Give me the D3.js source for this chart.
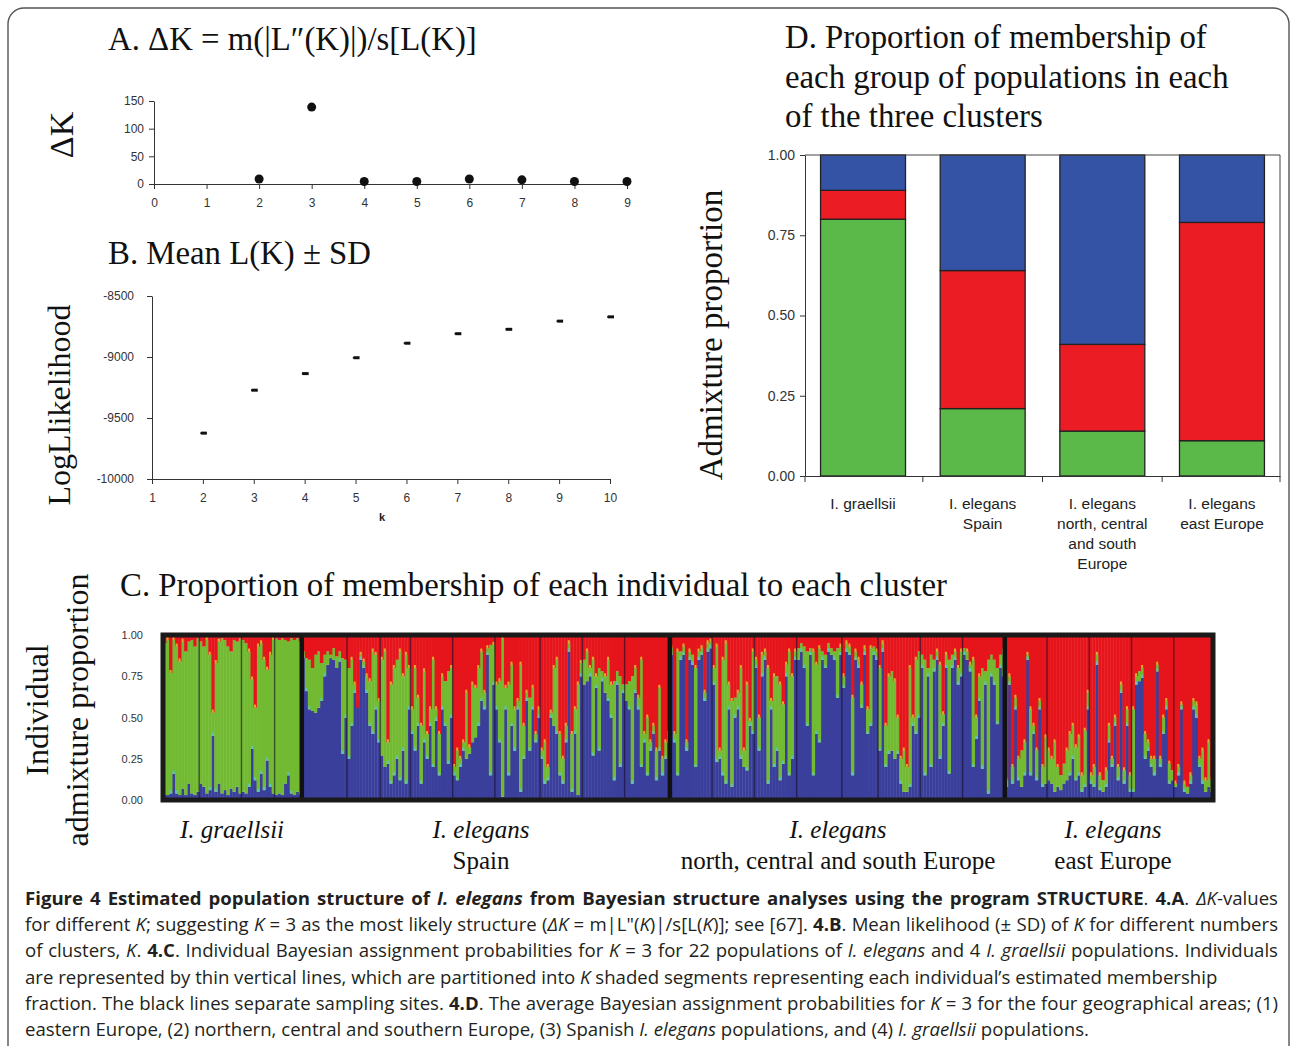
<!DOCTYPE html>
<html><head><meta charset="utf-8">
<script src="https://cdn.jsdelivr.net/npm/d3@7"></script>
<style>body{margin:0;background:#fff}svg{display:block}</style>
</head><body><svg id="fig" width="1290" height="1046"></svg>
<script>
// ---------- Panel A data ----------
const deltaKk = [2, 3, 4, 5, 6, 7, 8, 9];
const deltaK = [9, 139, 4.5, 4.5, 9, 7.5, 4.5, 4.5];
const deltaKTicksX = [0,1,2,3,4,5,6,7,8,9];
const deltaKTicksY = [0, 50, 100, 150];

// ---------- Panel B data ----------
const lnLk = [2, 3, 4, 5, 6, 7, 8, 9, 10];
const lnLMean = [-9624, -9272, -9136, -9006, -8887, -8809, -8773, -8706, -8671];
const lnLSd = [6, 8, 10, 6, 6, 8, 10, 6, 10];
const lnLTicksX = [1,2,3,4,5,6,7,8,9,10];
const lnLTicksY = [-10000, -9500, -9000, -8500];

// ---------- Panel D data ----------
const areaNames = ["I. graellsii", "I. elegans Spain", "I. elegans NCS Europe", "I. elegans east Europe"];
const areaLabels = [["I. graellsii"], ["I. elegans", "Spain"], ["I. elegans", "north,  central", "and south", "Europe"], ["I. elegans", "east Europe"]];
const areaGreen = [0.80, 0.21, 0.14, 0.11];
const areaRed = [0.09, 0.43, 0.27, 0.68];
const areaBlue = [0.11, 0.36, 0.59, 0.21];
const areaTicks = [0, 0.25, 0.5, 0.75, 1];

// ---------- Panel C data (per population, per individual) ----------
// blue share and cumulative blue+green share (red = rest)
const graellsiiBlue = [
 [.03,.03,.04,.16,.04,.03,.07,.03,.10,.04,.03,.05],
 [.10,.08,.04,.06,.39,.05,.10,.04,.06,.03,.07,.05,.08,.04],
 [.05,.04,.08,.31,.12,.05,.16,.06,.24,.08,.04],
 [.03,.04,.03,.10,.15,.04,.03,.05,.03]];
const graellsiiBlueGreen = [
 [.95,.97,.77,.97,.93,.84,.96,.90,.96,.97,.93,.98],
 [.96,.93,.97,.88,.53,.83,.96,.98,.97,.93,.90,.97,.96,.98],
 [.97,.95,.90,.73,.56,.93,.95,.85,.79,.88,.97],
 [.98,.97,.98,.97,.96,.98,.97,.98,.96]];
const spainBlue = [
 [.86,.66,.55,.54,.53,.56,.60,.75,.82,.86,.85,.80,.84,.28,.50],
 [.25,.45,.65,.60,.85,.80,.65,.45,.40,.55,.35],
 [.27,.20,.22,.10,.15,.25,.12,.30,.10,.55],
 [.40,.30,.45,.10,.35,.25,.45,.20,.48,.15,.55,.45,.22,.50],
 [.15,.12,.20,.30,.25,.28,.35,.38,.45,.60,.55,.88,.15,.70],
 [.55,.35,.02,.55,.15,.45,.30,.55,.05,.25,.60,.30,.55,.35,.50],
 [.25,.10,.12,.50,.45,.40,.15,.10,.35,.90,.05,.40,.03,.75],
 [.70,.72,.75,.27,.68,.30,.72,.65,.60,.50,.12,.70,.20,.65],
 [.60,.55,.10,.65,.55,.20,.35,.15,.30,.40,.12,.30,.15,.25,.35]];
const spainBlueGreen = [
 [.90,.86,.85,.80,.88,.90,.83,.88,.90,.88,.92,.87,.90,.86,.85],
 [.80,.85,.70,.56,.88,.84,.75,.72,.90,.88,.60],
 [.85,.90,.35,.70,.80,.85,.90,.75,.88,.80],
 [.55,.80,.62,.45,.78,.40,.55,.85,.55,.40,.75,.72,.78,.80],
 [.20,.30,.25,.35,.65,.32,.70,.68,.80,.90,.65,.92,.94,.94],
 [.70,.72,.98,.68,.70,.82,.55,.60,.82,.45,.65,.62,.68,.40,.55],
 [.30,.35,.20,.53,.80,.85,.40,.25,.45,.95,.40,.55,.70,.83],
 [.85,.90,.80,.85,.75,.80,.78,.75,.85,.70,.72,.78,.75,.70],
 [.70,.72,.75,.80,.62,.85,.40,.50,.35,.45,.30,.68,.25,.35,.40]];
const ncsBlue = [
 [.88,.35,.15,.85,.88,.30,.85,.82,.20,.85,.88,.60,.90,.92],
 [.70,.23,.25,.15,.10,.55,.08,.50,.55,.25,.20,.18,.45,.40],
 [.80,.30,.75,.85,.10,.55,.20,.30,.12,.22,.75,.15,.25,.85],
 [.85,.90,.80,.45,.88,.15,.40,.35,.85,.80,.90,.88,.85,.62,.88],
 [.68,.90,.88,.15,.85,.80,.56,.88,.40,.45,.88,.85],
 [.30,.90,.20,.28,.30,.25,.28,.10,.05,.05,.08,.45,.40,.50],
 [.80,.15,.75,.20,.78,.85,.25,.45,.80,.16,.80,.85,.70,.75],
 [.88,.85,.78,.20,.37,.60,.19,.70,.04,.75,.70,.46,.80,.75]];
const ncsBlueGreen = [
 [.92,.40,.90,.90,.93,.35,.90,.88,.80,.90,.92,.65,.95,.96],
 [.80,.93,.30,.85,.95,.70,.60,.62,.65,.80,.30,.70,.48,.90],
 [.85,.50,.88,.90,.80,.60,.75,.75,.70,.58,.82,.90,.75,.90],
 [.92,.95,.93,.90,.92,.90,.82,.92,.90,.88,.95,.92,.90,.92,.93],
 [.75,.95,.93,.62,.90,.85,.70,.92,.55,.92,.93,.90],
 [.80,.95,.45,.75,.78,.72,.50,.25,.30,.20,.80,.50,.85,.90],
 [.88,.85,.80,.88,.85,.90,.82,.52,.88,.85,.88,.90,.80,.90],
 [.92,.90,.82,.85,.50,.75,.80,.78,.85,.88,.85,.80,.88,.90]];
const eastBlue = [
 [.08,.70,.10,.55,.12,.08,.15,.85,.15,.40,.12,.55,.08,.10],
 [.12,.10,.05,.08,.06,.10,.12,.15,.25,.12,.15,.05,.08,.55],
 [.10,.08,.82,.06,.05,.08,.35,.20,.45,.12,.65,.10,.45,.05],
 [.05,.70,.72,.74,.25,.30,.20,.15,.78,.20,.40,.55,.10,.12],
 [.08,.15,.55,.05,.04,.10,.55,.50,.20,.10,.05,.08,.05]];
const eastBlueGreen = [
 [.12,.75,.20,.62,.25,.30,.35,.88,.55,.45,.30,.60,.20,.38],
 [.30,.25,.35,.20,.15,.22,.30,.40,.45,.32,.38,.15,.42,.65],
 [.15,.20,.88,.15,.12,.18,.45,.25,.50,.20,.70,.18,.55,.15],
 [.55,.75,.78,.80,.40,.35,.25,.25,.82,.25,.50,.60,.22,.18],
 [.10,.20,.58,.10,.08,.15,.60,.58,.25,.30,.12,.35,.12]];
const groupNames = ["I. graellsii", "I. elegans Spain", "I. elegans north, central and south Europe", "I. elegans east Europe"];
const cTicks = [0, 0.25, 0.5, 0.75, 1];

// ---------- drawing ----------
const SERIF = "'Liberation Serif','Times New Roman',serif";
const SANS = "'Liberation Sans',Arial,sans-serif";
const svg = d3.select("#fig");
svg.append("rect").attr("width", 1290).attr("height", 1046).attr("fill", "#fff");
svg.append("rect").attr("x", 8).attr("y", 8).attr("width", 1281).attr("height", 1100)
  .attr("rx", 16).attr("fill", "none").attr("stroke", "#555").attr("stroke-width", 1.4);

function styleAxis(g, fs) {
  g.selectAll("path.domain").attr("stroke", "#333").attr("stroke-width", 1);
  g.selectAll(".tick line").attr("stroke", "#333");
  g.selectAll(".tick text").attr("font-family", SANS).attr("font-size", fs).attr("fill", "#333");
}
function title(x, y, t, size) {
  svg.append("text").attr("x", x).attr("y", y).attr("font-family", SERIF)
    .attr("font-size", size).attr("fill", "#111").text(t);
}
function vlabel(x, y, t, size) {
  svg.append("text").attr("transform", `translate(${x},${y}) rotate(-90)`)
    .attr("text-anchor", "middle").attr("font-family", SERIF).attr("font-size", size)
    .attr("fill", "#111").text(t);
}

// Panel A
title(108, 50, "A. \u0394K = m(|L\u2033(K)|)/s[L(K)]", 32.8);
const xA = d3.scaleLinear().domain([0, 9]).range([154, 627]);
const yA = d3.scaleLinear().domain([0, 150]).range([184, 101]);
const gAx = svg.append("g").attr("transform", "translate(0,184)")
  .call(d3.axisBottom(xA).tickValues(deltaKTicksX).tickSize(5).tickSizeOuter(0).tickPadding(9));
styleAxis(gAx, 12);
const gAy = svg.append("g").attr("transform", "translate(154,0)")
  .call(d3.axisLeft(yA).tickValues(deltaKTicksY).tickSize(5).tickSizeOuter(0).tickPadding(5));
styleAxis(gAy, 12);
svg.append("g").selectAll("circle").data(deltaKk).join("circle")
  .attr("cx", (d) => xA(d)).attr("cy", (d, i) => yA(deltaK[i])).attr("r", 4.5).attr("fill", "#111");
vlabel(73, 135, "\u0394K", 34);

// Panel B
title(108, 264, "B. Mean L(K) \u00b1 SD", 32.8);
const xB = d3.scaleLinear().domain([1, 10]).range([152, 610]);
const yB = d3.scaleLinear().domain([-10000, -8500]).range([479, 296]);
const gBx = svg.append("g").attr("transform", "translate(0,479)")
  .call(d3.axisBottom(xB).tickValues(lnLTicksX).tickSize(5).tickSizeOuter(0).tickPadding(9));
styleAxis(gBx, 12);
const gBy = svg.append("g").attr("transform", "translate(152,0)")
  .call(d3.axisLeft(yB).tickValues(lnLTicksY).tickFormat((d) => String(d)).tickSize(5).tickSizeOuter(0).tickPadding(13));
styleAxis(gBy, 12);
const ptsB = svg.append("g").selectAll("g").data(lnLk).join("g");
ptsB.append("line").attr("x1", (d) => xB(d) - 2).attr("x2", (d) => xB(d) - 2)
  .attr("y1", (d, i) => yB(lnLMean[i] - lnLSd[i])).attr("y2", (d, i) => yB(lnLMean[i] + lnLSd[i]))
  .attr("stroke", "#111").attr("stroke-width", 1.5);
ptsB.append("rect").attr("x", (d) => xB(d) - 2).attr("y", (d, i) => yB(lnLMean[i]) - 1.5)
  .attr("width", 6).attr("height", 3).attr("fill", "#111");
svg.append("text").attr("x", 382).attr("y", 521).attr("text-anchor", "middle")
  .attr("font-family", SANS).attr("font-size", 11).attr("font-weight", "bold").attr("fill", "#222").text("k");
vlabel(70, 405, "LogLlikelihood", 32);

// Panel D
title(785, 48, "D. Proportion of membership of", 32.8);
title(785, 88, "each group of populations in each", 32.8);
title(785, 127, "of the three clusters", 32.8);
const xD = d3.scaleBand().domain(areaNames).range([805, 1280]).paddingInner(0.29).paddingOuter(0.13);
const yD = d3.scaleLinear().domain([0, 1]).range([476, 155]);
const dRows = areaNames.map((n, i) => ({ name: n, green: areaGreen[i], red: areaRed[i], blue: areaBlue[i] }));
const stackD = d3.stack().keys(["green", "red", "blue"])(dRows);
const colD = { green: "#5bb94a", red: "#ec1c24", blue: "#3453a5" };
svg.append("g").selectAll("g").data(stackD).join("g").attr("fill", (s) => colD[s.key])
  .selectAll("rect").data((s) => s).join("rect")
  .attr("x", (d) => xD(d.data.name)).attr("width", xD.bandwidth())
  .attr("y", (d) => yD(d[1])).attr("height", (d) => yD(d[0]) - yD(d[1]))
  .attr("stroke", "#222").attr("stroke-width", 1.3);
svg.append("line").attr("x1", 805).attr("x2", 1280).attr("y1", 155).attr("y2", 155).attr("stroke", "#444");
svg.append("line").attr("x1", 1280).attr("x2", 1280).attr("y1", 155).attr("y2", 476).attr("stroke", "#444");
const gDy = svg.append("g").attr("transform", "translate(805,0)")
  .call(d3.axisLeft(yD).tickValues(areaTicks).tickFormat(d3.format(".2f")).tickSize(5).tickSizeOuter(0).tickPadding(5));
styleAxis(gDy, 14);
const gDx = svg.append("g").attr("transform", "translate(0,476)")
  .call(d3.axisBottom(xD).tickSize(0).tickSizeOuter(0).tickFormat(""));
styleAxis(gDx, 14);
const bounds = areaNames.map((n) => xD(n) - xD.step() * xD.paddingInner() / 2);
bounds[0] = 805; bounds.push(1280);
svg.append("g").selectAll("line").data(bounds).join("line")
  .attr("x1", (d) => d).attr("x2", (d) => d).attr("y1", 476).attr("y2", 482).attr("stroke", "#333");
areaLabels.forEach((lines, i) => {
  const cx = xD(areaNames[i]) + xD.bandwidth() / 2;
  lines.forEach((l, j) => {
    svg.append("text").attr("x", cx).attr("y", 509 + j * 20).attr("text-anchor", "middle")
      .attr("font-family", SANS).attr("font-size", 15.5).attr("fill", "#222").text(l);
  });
});
vlabel(722, 335, "Admixture proportion", 33);

// Panel C
title(120, 596, "C. Proportion of membership of each individual to each cluster", 32.8);
const groupsC = [
  { blue: graellsiiBlue, bg: graellsiiBlueGreen },
  { blue: spainBlue, bg: spainBlueGreen },
  { blue: ncsBlue, bg: ncsBlueGreen },
  { blue: eastBlue, bg: eastBlueGreen }];
const inds = [];
const popStarts = [], groupStarts = [];
groupsC.forEach((g, gi) => {
  groupStarts.push(inds.length);
  g.blue.forEach((pop, pi) => {
    popStarts.push(inds.length);
    pop.forEach((b, k) => {
      const bg = g.bg[pi][k];
      inds.push({ id: inds.length, blue: b, green: bg - b, red: 1 - bg, bg: bg });
    });
  });
});
const xC = d3.scaleBand().domain(inds.map((d) => d.id)).range([163, 1213]);
const yC = d3.scaleLinear().domain([0, 1]).range([800, 635]);
const stackC = d3.stack().keys(["blue", "green", "red"])(inds);
const colC = { blue: "#3b3f9c", green: "#72ba32", red: "#e6141b" };
svg.append("g").selectAll("g").data(stackC).join("g").attr("fill", (s) => colC[s.key])
  .selectAll("rect").data((s) => s).join("rect")
  .attr("x", (d) => xC(d.data.id)).attr("width", xC.bandwidth() + 0.4)
  .attr("y", (d) => yC(d[1])).attr("height", (d) => Math.max(0, yC(d[0]) - yC(d[1])));
// thin blended caps at the tops of narrow spikes (blue->green cyan, green->red yellow)
function isSpike(i, key) {
  const v = inds[i][key];
  const l = i > 0 ? inds[i - 1][key] : v, r = i < inds.length - 1 ? inds[i + 1][key] : v;
  return Math.abs(v - l) > 0.08 || Math.abs(v - r) > 0.08;
}
const capsB = inds.filter((d, i) => d.green > 0.02 && d.blue > 0.03 && isSpike(i, "blue"));
const capsG = inds.filter((d, i) => d.red > 0.02 && d.green > 0.02 && isSpike(i, "bg"));
svg.append("g").selectAll("rect").data(capsB).join("rect")
  .attr("x", (d) => xC(d.id) + 0.5).attr("width", Math.max(1, xC.bandwidth() - 1))
  .attr("y", (d) => yC(d.blue) - 3).attr("height", 3).attr("fill", "#57c3d8").attr("opacity", 0.85);
svg.append("g").selectAll("rect").data(capsG).join("rect")
  .attr("x", (d) => xC(d.id) + 0.5).attr("width", Math.max(1, xC.bandwidth() - 1))
  .attr("y", (d) => yC(d.bg) - 3).attr("height", 3).attr("fill", "#d9c92a").attr("opacity", 0.85);
const thin = popStarts.filter((s) => !groupStarts.includes(s));
svg.append("g").selectAll("line").data(thin).join("line")
  .attr("x1", (d) => xC(d)).attr("x2", (d) => xC(d)).attr("y1", 635).attr("y2", 800)
  .attr("stroke", "rgba(20,10,40,0.6)").attr("stroke-width", 1.4);
svg.append("g").selectAll("line").data(groupStarts.slice(1)).join("line")
  .attr("x1", (d) => xC(d)).attr("x2", (d) => xC(d)).attr("y1", 633).attr("y2", 802)
  .attr("stroke", "#111").attr("stroke-width", 4.5);
svg.append("rect").attr("x", 163).attr("y", 635).attr("width", 1050).attr("height", 165)
  .attr("fill", "none").attr("stroke", "#1a1a1a").attr("stroke-width", 5);
svg.append("g").selectAll("text").data(cTicks).join("text")
  .attr("x", 143).attr("y", (d) => yC(d) + 4).attr("text-anchor", "end")
  .attr("font-family", SANS).attr("font-size", 11).attr("fill", "#333").text(d3.format(".2f"));
vlabel(48, 710, "Individual", 32);
vlabel(88, 710, "admixture proportion", 32);
const glabels = [
  { x: 232, lines: [["I. graellsii", true]] },
  { x: 481, lines: [["I. elegans", true], ["Spain", false]] },
  { x: 838, lines: [["I. elegans", true], ["north, central and south Europe", false]] },
  { x: 1113, lines: [["I. elegans", true], ["east Europe", false]] }];
glabels.forEach((g) => g.lines.forEach((l, j) => {
  svg.append("text").attr("x", g.x).attr("y", 838 + j * 31).attr("text-anchor", "middle")
    .attr("font-family", SERIF).attr("font-size", 25).attr("font-style", l[1] ? "italic" : "normal")
    .attr("fill", "#111").text(l[0]);
}));

// Caption
const caption = [
  [["Figure 4 Estimated population structure of ", "b"], ["I. elegans", "bi"], [" from Bayesian structure analyses using the program STRUCTURE", "b"], [". ", "n"], ["4.A", "b"], [". ", "n"], ["\u0394K", "i"], ["-values", "n"]],
  [["for different ", "n"], ["K", "i"], ["; suggesting ", "n"], ["K", "i"], [" = 3 as the most likely structure (", "n"], ["\u0394K", "i"], [" = m|L\"(", "n"], ["K", "i"], [")|/s[L(", "n"], ["K", "i"], [")]; see [67]. ", "n"], ["4.B", "b"], [". Mean likelihood (\u00b1 SD) of ", "n"], ["K", "i"], [" for different numbers", "n"]],
  [["of clusters, ", "n"], ["K", "i"], [". ", "n"], ["4.C", "b"], [". Individual Bayesian assignment probabilities for ", "n"], ["K", "i"], [" = 3 for 22 populations of ", "n"], ["I. elegans", "i"], [" and 4 ", "n"], ["I. graellsii", "i"], [" populations. Individuals", "n"]],
  [["are represented by thin vertical lines, which are partitioned into ", "n"], ["K", "i"], [" shaded segments representing each individual\u2019s estimated membership", "n"]],
  [["fraction. The black lines separate sampling sites. ", "n"], ["4.D", "b"], [". The average Bayesian assignment probabilities for ", "n"], ["K", "i"], [" = 3 for the four geographical areas; (1)", "n"]],
  [["eastern Europe, (2) northern, central and southern Europe, (3) Spanish ", "n"], ["I. elegans", "i"], [" populations, and (4) ", "n"], ["I. graellsii", "i"], [" populations.", "n"]]];
const justify = [true, true, true, false, true, false];
const capG = svg.append("g").attr("font-family", "'Open Sans','Noto Sans',sans-serif").attr("fill", "#231f20");
const capTexts = caption.map((line, i) => {
  const t = capG.append("text").attr("x", 25).attr("y", 905 + i * 26.2).attr("font-size", 18);
  line.forEach((seg) => {
    t.append("tspan").attr("font-weight", seg[1].includes("b") ? "bold" : "normal")
      .attr("font-style", seg[1].includes("i") ? "italic" : "normal").text(seg[0]);
  });
  return t;
});
const w4 = capTexts[3].node().getComputedTextLength();
const fs = 18 * 1193 / w4;
capTexts.forEach((t, i) => {
  t.attr("font-size", fs);
  if (justify[i]) {
    const w = t.node().getComputedTextLength();
    const n = caption[i].map((s) => s[0]).join("").split(" ").length - 1;
    t.attr("word-spacing", (1253 - w) / n);
  }
});
</script></body></html>
